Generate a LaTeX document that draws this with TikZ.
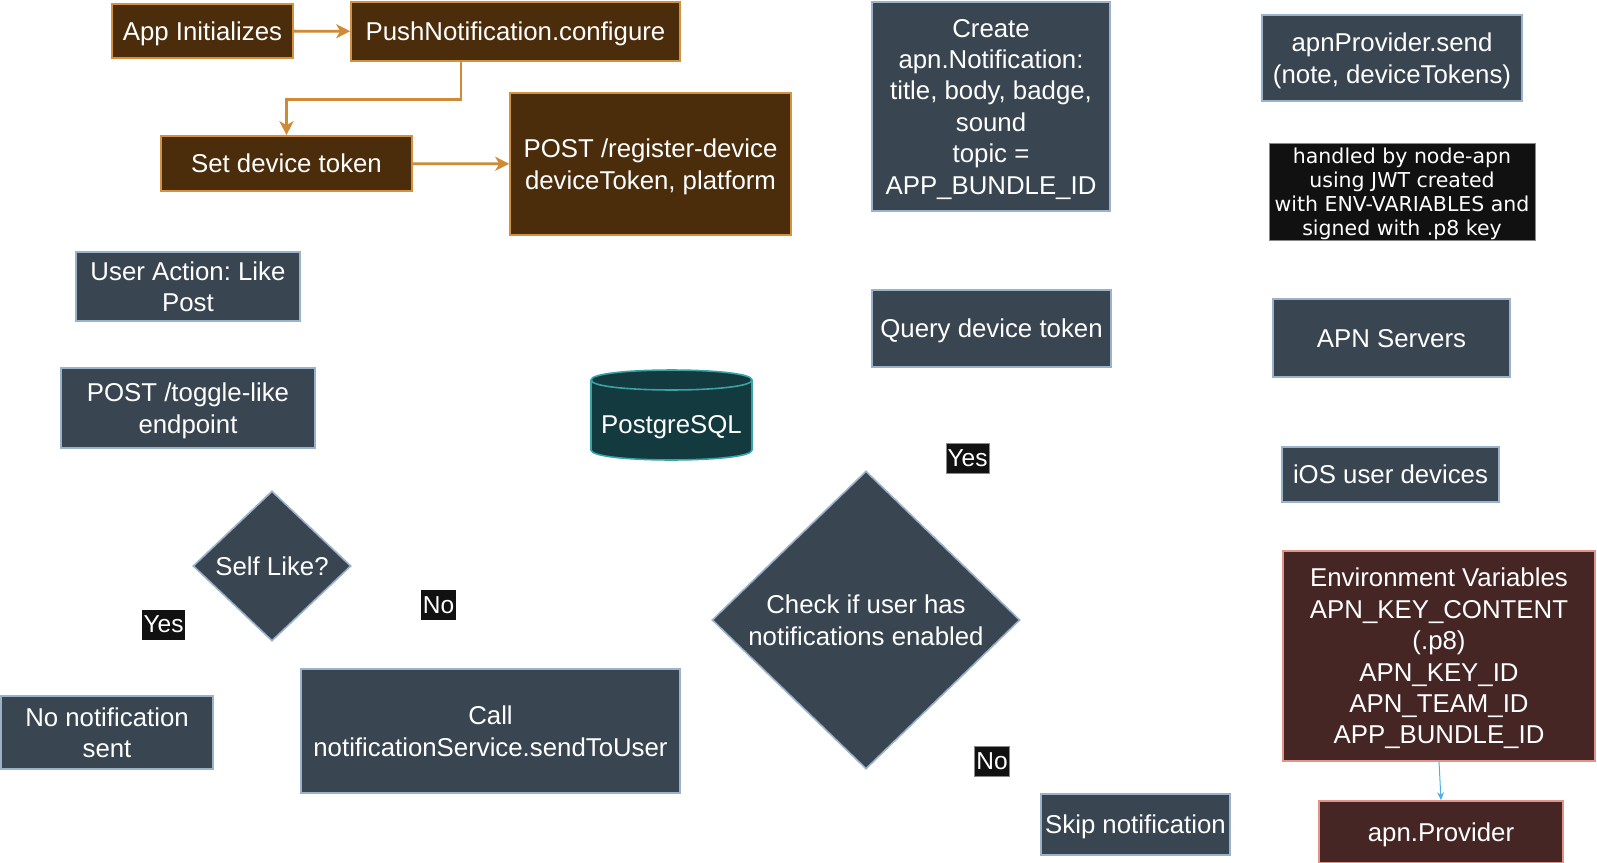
\documentclass[tikz,border=0pt]{standalone}
\usepackage{fontspec}
\setmainfont{Liberation Sans}
\newfontfamily\dejavu{DejaVu Sans}
\usetikzlibrary{shapes.geometric,arrows.meta}
\definecolor{brownfill}{RGB}{75,45,11}
\definecolor{brownline}{RGB}{212,145,63}
\definecolor{orangearr}{RGB}{208,138,53}
\definecolor{slatefill}{RGB}{57,70,81}
\definecolor{slateline}{RGB}{154,179,203}
\definecolor{pgfill}{RGB}{18,58,63}
\definecolor{pgline}{RGB}{58,163,168}
\definecolor{envfill}{RGB}{69,38,36}
\definecolor{envline}{RGB}{227,148,138}
\definecolor{notefill}{RGB}{17,17,17}
\definecolor{noteline}{RGB}{136,136,136}
\definecolor{bluearr}{RGB}{80,176,230}
\frenchspacing
\begin{document}
\begin{tikzpicture}[x=1pt,y=-1pt,
  every node/.style={text=white, align=center, inner sep=0pt, font=\fontsize{25.8}{31.4}\selectfont},
  boxbase/.style={line width=1.6pt, text depth=0pt},
  brownbox/.style={boxbase, draw=brownline, fill=brownfill},
  slatebox/.style={boxbase, draw=slateline, fill=slatefill},
  envbox/.style={boxbase, draw=envline, fill=envfill},
  notebox/.style={draw=noteline, fill=notefill, line width=1pt, text depth=0pt, font=\dejavu\fontsize{20.5}{24}\selectfont},
  decision/.style={boxbase, shape=diamond, draw=slateline, fill=slatefill},
  lbl/.style={fill=notefill, inner xsep=1.6pt, minimum height=30pt, font=\fontsize{24.5}{28}\selectfont},
  lblb/.style={lbl, draw=noteline, line width=0.8pt},
  orangearrow/.style={draw=orangearr, line width=2.8pt, -{Stealth[length=14pt,width=14pt,inset=4pt]}},
  bluearrow/.style={draw=bluearr, line width=1pt, -{Stealth[length=8pt,width=7pt]}}
]
\useasboundingbox (0,0) rectangle (1597,862);
\fill[white] (0,0) rectangle (1597,862);

% brown flow
\node[brownbox, minimum width=181pt, minimum height=54pt] (app) at (202.5,31) {App Initializes};
\node[brownbox, minimum width=329pt, minimum height=59pt] (push) at (515.5,31.5) {PushNotification.configure};
\node[brownbox, minimum width=251pt, minimum height=55pt] (setdt) at (286.5,163.5) {Set device token};
\node[brownbox, minimum width=281pt, minimum height=142pt] (reg) at (650.5,164) {POST /register-device\\deviceToken, platform};

\draw[orangearrow] (app) -- (push);
\draw[orangearrow] ([xshift=-54.5pt]push.south) -- ++(0,38) -| (setdt.north);
\draw[orangearrow] (setdt) -- (reg);

% left column
\node[slatebox, minimum width=224pt, minimum height=69pt] (user) at (188,286.5) {User Action: Like\\Post};
\node[slatebox, minimum width=254pt, minimum height=80pt] (toggle) at (188,408) {POST /toggle-like\\endpoint};
\node[decision, minimum width=158pt, minimum height=150pt] (self) at (272,566) {Self Like?};
\node[lbl] (yes1) at (163.5,624.5) {Yes};
\node[lbl] (no1) at (438.5,605) {No};
\node[slatebox, minimum width=212pt, minimum height=73pt] (nonotif) at (107,732.5) {No notification\\sent};
\node[slatebox, minimum width=379pt, minimum height=124pt] (call) at (490.5,731) {Call\\notificationService.sendToUser};

% database
\filldraw[draw=pgline, fill=pgfill, line width=1.6pt]
  (591,380) -- (591,450) .. controls (591,463.3) and (752,463.3) .. (752,450)
  -- (752,380) .. controls (752,366.7) and (591,366.7) .. (591,380) -- cycle;
\draw[draw=pgline, line width=1.6pt] (591,380) .. controls (591,393.3) and (752,393.3) .. (752,380);
\node[text depth=0pt] (pg) at (671.5,424) {PostgreSQL};

% middle column
\node[slatebox, minimum width=238pt, minimum height=209pt] (create) at (991,106.5)
  {Create\\apn.Notification:\\title, body, badge,\\sound\\topic =\\APP\_BUNDLE\_ID};
\node[slatebox, minimum width=239pt, minimum height=77pt] (query) at (991.5,328.5) {Query device token};
\node[decision, minimum width=308pt, minimum height=298pt] (check) at (866,620) {Check if user has\\notifications enabled};
\node[lblb] (yes2) at (967.5,458.5) {Yes};
\node[lblb] (no2) at (992,761.5) {No};
\node[slatebox, minimum width=189pt, minimum height=61pt] (skip) at (1135.5,824.5) {Skip notification};

% right column
\node[slatebox, minimum width=260pt, minimum height=86pt] (send) at (1392,58) {apnProvider.send\\(note, deviceTokens)};
\node[notebox, minimum width=266pt, minimum height=97pt] (handled) at (1402,191.5)
  {handled by node-apn\\using JWT created\\with ENV-VARIABLES and\\signed with .p8 key};
\node[slatebox, minimum width=237pt, minimum height=78pt] (apns) at (1391.5,338) {APN Servers};
\node[slatebox, minimum width=217pt, minimum height=55pt] (ios) at (1390.5,474.5) {iOS user devices};
\node[envbox, minimum width=312pt, minimum height=210pt] (env) at (1439,656)
  {Environment Variables\\APN\_KEY\_CONTENT\\(.p8)\\APN\_KEY\_ID\\APN\_TEAM\_ID\\APP\_BUNDLE\_ID};
\node[envbox, minimum width=244pt, minimum height=62pt] (prov) at (1441,832) {apn.Provider};

\draw[bluearrow] (env.south) -- (prov.north);
\end{tikzpicture}
\end{document}
